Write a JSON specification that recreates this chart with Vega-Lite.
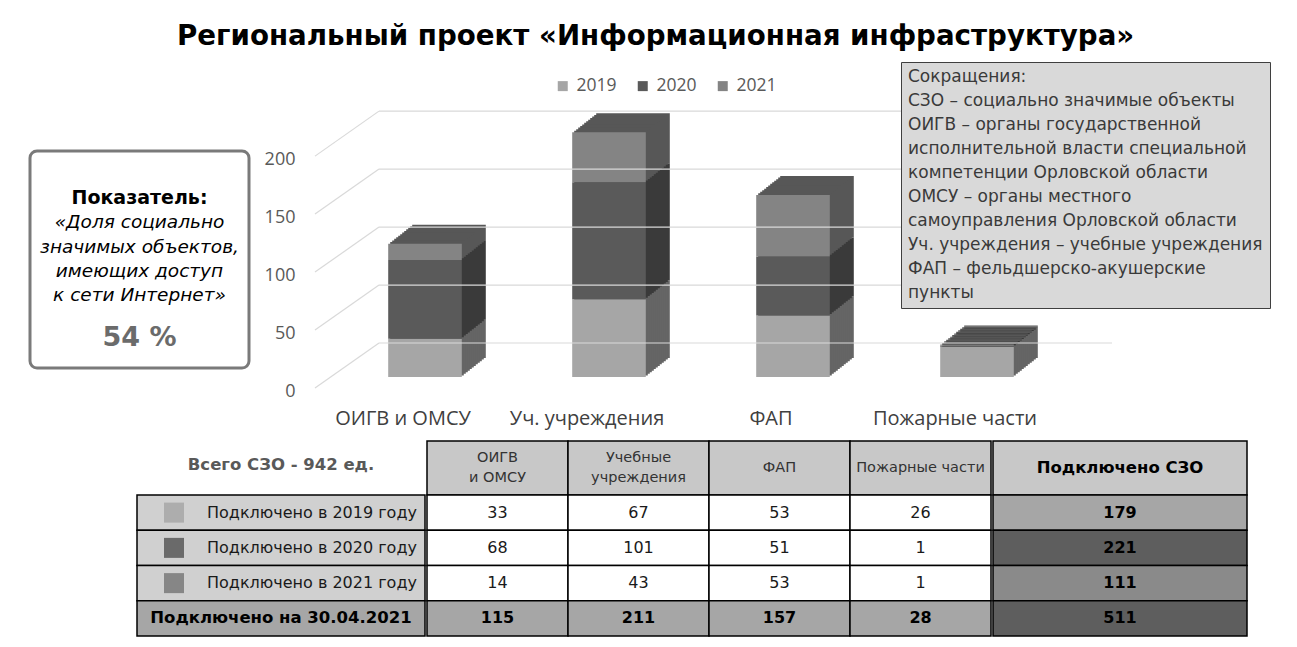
{
  "$schema": "https://vega.github.io/schema/vega-lite/v6.json",
  "background": "white",
  "padding": {"left": 28, "top": 22, "right": 0, "bottom": 0},
  "spacing": 12,
  "title": {"text": "Региональный проект «Информационная инфраструктура»", "font": "DejaVu Sans", "fontSize": 27.7, "fontWeight": "bold", "color": "#000000", "anchor": "start", "frame": "group", "dx": 147, "offset": 11},
  "datasets": {
    "bars": [
      {"cat": "ОИГВ и ОМСУ", "year": "2019", "n": 33},
      {"cat": "ОИГВ и ОМСУ", "year": "2020", "n": 68},
      {"cat": "ОИГВ и ОМСУ", "year": "2021", "n": 14},
      {"cat": "Уч. учреждения", "year": "2019", "n": 67},
      {"cat": "Уч. учреждения", "year": "2020", "n": 101},
      {"cat": "Уч. учреждения", "year": "2021", "n": 43},
      {"cat": "ФАП", "year": "2019", "n": 53},
      {"cat": "ФАП", "year": "2020", "n": 51},
      {"cat": "ФАП", "year": "2021", "n": 53},
      {"cat": "Пожарные части", "year": "2019", "n": 26},
      {"cat": "Пожарные части", "year": "2020", "n": 1},
      {"cat": "Пожарные части", "year": "2021", "n": 1}
    ],
    "ticks": [{"v": 0}, {"v": 50}, {"v": 100}, {"v": 150}, {"v": 200}],
    "abbr": [
      {"t": "СЗО – социально значимые объекты"},
      {"t": "ОИГВ – органы государственной"},
      {"t": "исполнительной власти специальной"},
      {"t": "компетенции Орловской области"},
      {"t": "ОМСУ – органы местного"},
      {"t": "самоуправления Орловской области"},
      {"t": "Уч. учреждения – учебные учреждения"},
      {"t": "ФАП – фельдшерско-акушерские"},
      {"t": "пункты"}
    ],
    "note": [
      {"t": "Показатель:", "kind": "head"},
      {"t": "«Доля социально", "kind": "body"},
      {"t": "значимых объектов,", "kind": "body"},
      {"t": "имеющих доступ", "kind": "body"},
      {"t": "к сети Интернет»", "kind": "body"},
      {"t": "54 %", "kind": "value"}
    ],
    "rows": [
      {"row": "Подключено в 2019 году", "year": "2019"},
      {"row": "Подключено в 2020 году", "year": "2020"},
      {"row": "Подключено в 2021 году", "year": "2021"},
      {"row": "Подключено на 30.04.2021", "year": null}
    ],
    "hdr": [
      {"col": "ОИГВ и ОМСУ", "h": "ОИГВ\nи ОМСУ", "lines": 2},
      {"col": "Учебные учреждения", "h": "Учебные\nучреждения", "lines": 2},
      {"col": "ФАП", "h": "ФАП", "lines": 1},
      {"col": "Пожарные части", "h": "Пожарные части", "lines": 1}
    ],
    "table": [
      {"row": "Подключено в 2019 году", "col": "ОИГВ и ОМСУ", "v": 33},
      {"row": "Подключено в 2020 году", "col": "ОИГВ и ОМСУ", "v": 68},
      {"row": "Подключено в 2021 году", "col": "ОИГВ и ОМСУ", "v": 14},
      {"row": "Подключено на 30.04.2021", "col": "ОИГВ и ОМСУ", "v": 115},
      {"row": "Подключено в 2019 году", "col": "Учебные учреждения", "v": 67},
      {"row": "Подключено в 2020 году", "col": "Учебные учреждения", "v": 101},
      {"row": "Подключено в 2021 году", "col": "Учебные учреждения", "v": 43},
      {"row": "Подключено на 30.04.2021", "col": "Учебные учреждения", "v": 211},
      {"row": "Подключено в 2019 году", "col": "ФАП", "v": 53},
      {"row": "Подключено в 2020 году", "col": "ФАП", "v": 51},
      {"row": "Подключено в 2021 году", "col": "ФАП", "v": 53},
      {"row": "Подключено на 30.04.2021", "col": "ФАП", "v": 157},
      {"row": "Подключено в 2019 году", "col": "Пожарные части", "v": 26},
      {"row": "Подключено в 2020 году", "col": "Пожарные части", "v": 1},
      {"row": "Подключено в 2021 году", "col": "Пожарные части", "v": 1},
      {"row": "Подключено на 30.04.2021", "col": "Пожарные части", "v": 28},
      {"row": "Подключено в 2019 году", "col": "Подключено СЗО", "v": 179},
      {"row": "Подключено в 2020 году", "col": "Подключено СЗО", "v": 221},
      {"row": "Подключено в 2021 году", "col": "Подключено СЗО", "v": 111},
      {"row": "Подключено на 30.04.2021", "col": "Подключено СЗО", "v": 511}
    ]
  },
  "vconcat": [
    {
      "bounds": "flush",
      "spacing": 62,
      "hconcat": [
        {
          "width": 219,
          "height": 217,
          "view": {"stroke": "#7a7a7a", "strokeWidth": 3, "cornerRadius": 7, "fill": "white"},
          "data": {"name": "note"},
          "encoding": {
            "y": {"field": "t", "type": "ordinal", "scale": {"type": "band", "domain": ["Показатель:", "«Доля социально", "значимых объектов,", "имеющих доступ", "к сети Интернет»", "_", "54 %"], "paddingInner": 0, "paddingOuter": 0.966, "align": 0.743}, "axis": null}
          },
          "layer": [
            {"transform": [{"filter": "datum.kind === 'head'"}], "mark": {"type": "text", "font": "DejaVu Sans", "fontWeight": "bold", "fontSize": 19, "color": "#000000", "baseline": "middle"}, "encoding": {"text": {"field": "t"}}},
            {"transform": [{"filter": "datum.kind === 'body'"}], "mark": {"type": "text", "font": "DejaVu Sans", "fontStyle": "italic", "fontSize": 18.5, "color": "#000000", "baseline": "middle"}, "encoding": {"text": {"field": "t"}}},
            {"transform": [{"filter": "datum.kind === 'value'"}], "mark": {"type": "text", "font": "DejaVu Sans", "fontWeight": "bold", "fontSize": 27, "color": "#6b6b6b", "baseline": "middle", "dy": -6}, "encoding": {"text": {"field": "t"}}}
          ]
        },
        {
          "width": 736,
          "height": 240,
          "layer": [
            {
              "data": {"name": "bars"},
              "encoding": {
                "x": {"field": "cat", "type": "nominal", "title": null, "scale": {"type": "band", "domain": ["ОИГВ и ОМСУ", "Уч. учреждения", "ФАП", "Пожарные части"], "paddingInner": 0.6, "paddingOuter": 0.3}, "axis": {"title": null, "domain": false, "ticks": false, "labelAngle": 0, "labelAlign": "center", "labelBaseline": "top", "labelPadding": 17, "labelFont": "Open Sans", "labelFontSize": 20, "labelColor": "#404040", "labelLimit": 300}},
                "y": {"field": "n", "type": "quantitative", "title": null, "stack": "zero", "scale": {"domain": [0, 207], "nice": false}, "axis": {"title": null, "values": [0, 50, 100, 150, 200], "grid": false, "domain": false, "ticks": false, "labelPadding": 16, "labelFont": "Open Sans", "labelFontSize": 18, "labelColor": "#595959"}},
                "detail": {"field": "year"},
                "order": {"field": "year", "sort": "ascending"}
              },
              "layer": [
                {"mark": {"type": "bar", "xOffset": 46, "x2Offset": 46, "yOffset": -33, "y2Offset": -33}, "encoding": {"fill": {"condition": [{"test": "datum.year === '2019'", "value": "#656565"}, {"test": "datum.year === '2020'", "value": "#3a3a3a"}], "value": "#575757"}}},
                {"mark": {"type": "bar", "xOffset": 44, "x2Offset": 44, "yOffset": -31.4, "y2Offset": -31.4}, "encoding": {"fill": {"condition": [{"test": "datum.year === '2019'", "value": "#656565"}, {"test": "datum.year === '2020'", "value": "#3a3a3a"}], "value": "#575757"}}},
                {"mark": {"type": "bar", "xOffset": 42, "x2Offset": 42, "yOffset": -29.8, "y2Offset": -29.8}, "encoding": {"fill": {"condition": [{"test": "datum.year === '2019'", "value": "#656565"}, {"test": "datum.year === '2020'", "value": "#3a3a3a"}], "value": "#575757"}}},
                {"mark": {"type": "bar", "xOffset": 40, "x2Offset": 40, "yOffset": -28.3, "y2Offset": -28.3}, "encoding": {"fill": {"condition": [{"test": "datum.year === '2019'", "value": "#656565"}, {"test": "datum.year === '2020'", "value": "#3a3a3a"}], "value": "#575757"}}},
                {"mark": {"type": "bar", "xOffset": 38, "x2Offset": 38, "yOffset": -26.7, "y2Offset": -26.7}, "encoding": {"fill": {"condition": [{"test": "datum.year === '2019'", "value": "#656565"}, {"test": "datum.year === '2020'", "value": "#3a3a3a"}], "value": "#575757"}}},
                {"mark": {"type": "bar", "xOffset": 36, "x2Offset": 36, "yOffset": -25.1, "y2Offset": -25.1}, "encoding": {"fill": {"condition": [{"test": "datum.year === '2019'", "value": "#656565"}, {"test": "datum.year === '2020'", "value": "#3a3a3a"}], "value": "#575757"}}},
                {"mark": {"type": "bar", "xOffset": 34, "x2Offset": 34, "yOffset": -23.5, "y2Offset": -23.5}, "encoding": {"fill": {"condition": [{"test": "datum.year === '2019'", "value": "#656565"}, {"test": "datum.year === '2020'", "value": "#3a3a3a"}], "value": "#575757"}}},
                {"mark": {"type": "bar", "xOffset": 32, "x2Offset": 32, "yOffset": -21.9, "y2Offset": -21.9}, "encoding": {"fill": {"condition": [{"test": "datum.year === '2019'", "value": "#656565"}, {"test": "datum.year === '2020'", "value": "#3a3a3a"}], "value": "#575757"}}},
                {"mark": {"type": "bar", "xOffset": 30, "x2Offset": 30, "yOffset": -20.3, "y2Offset": -20.3}, "encoding": {"fill": {"condition": [{"test": "datum.year === '2019'", "value": "#656565"}, {"test": "datum.year === '2020'", "value": "#3a3a3a"}], "value": "#575757"}}},
                {"mark": {"type": "bar", "xOffset": 28, "x2Offset": 28, "yOffset": -18.8, "y2Offset": -18.8}, "encoding": {"fill": {"condition": [{"test": "datum.year === '2019'", "value": "#656565"}, {"test": "datum.year === '2020'", "value": "#3a3a3a"}], "value": "#575757"}}},
                {"mark": {"type": "bar", "xOffset": 26, "x2Offset": 26, "yOffset": -17.2, "y2Offset": -17.2}, "encoding": {"fill": {"condition": [{"test": "datum.year === '2019'", "value": "#656565"}, {"test": "datum.year === '2020'", "value": "#3a3a3a"}], "value": "#575757"}}},
                {"mark": {"type": "bar", "xOffset": 24, "x2Offset": 24, "yOffset": -15.6, "y2Offset": -15.6}, "encoding": {"fill": {"condition": [{"test": "datum.year === '2019'", "value": "#656565"}, {"test": "datum.year === '2020'", "value": "#3a3a3a"}], "value": "#575757"}}},
                {
                  "mark": {"type": "bar", "xOffset": 22, "x2Offset": 22, "yOffset": -14, "y2Offset": -14},
                  "encoding": {
                    "color": {"field": "year", "type": "nominal", "scale": {"domain": ["2019", "2020", "2021"], "range": ["#a6a6a6", "#5a5a5a", "#848484"]},
                      "legend": {"orient": "none", "legendX": 524, "legendY": -74, "direction": "horizontal", "title": null, "symbolType": "square", "symbolSize": 100, "symbolStrokeWidth": 0, "labelFont": "Open Sans", "labelFontSize": 17.5, "labelColor": "#595959", "labelOffset": 5, "columnPadding": 17}}
                  }
                }
              ]
            },
            {
              "data": {"name": "ticks"},
              "mark": {"type": "rule", "color": "#d9d9d9", "strokeWidth": 1.2, "xOffset": -88, "x2Offset": -24, "yOffset": -3, "y2Offset": -48},
              "encoding": {
                "x": {"datum": "ОИГВ и ОМСУ", "type": "nominal"},
                "x2": {"datum": "ОИГВ и ОМСУ"},
                "y": {"field": "v", "type": "quantitative", "title": null},
                "y2": {"field": "v"}
              }
            },
            {
              "data": {"name": "ticks"},
              "mark": {"type": "rule", "color": "#d9d9d9", "strokeWidth": 1.2, "xOffset": -24, "x2Offset": 157, "yOffset": -48},
              "encoding": {
                "x": {"datum": "ОИГВ и ОМСУ", "type": "nominal"},
                "x2": {"datum": "Пожарные части"},
                "y": {"field": "v", "type": "quantitative", "title": null}
              }
            },
            {
              "data": {"name": "abbr"},
              "mark": {"type": "point", "opacity": 0},
              "encoding": {
                "shape": {"field": "t", "type": "nominal", "sort": null,
                  "legend": {"orient": "none", "legendX": 871, "legendY": -89, "title": "Сокращения:", "titleFont": "DejaVu Sans", "titleFontSize": 17, "titleFontWeight": "normal", "titleColor": "#3a3a3a", "titlePadding": 6, "labelFont": "DejaVu Sans", "labelFontSize": 17, "labelColor": "#3a3a3a", "labelLimit": 600, "labelOffset": -17, "symbolSize": 0, "symbolOpacity": 0, "symbolStrokeWidth": 0, "rowPadding": 6.0, "padding": 7, "fillColor": "#d9d9d9", "strokeColor": "#3f3f3f"}}
              }
            }
          ]
        }
      ]
    },
    {
      "spacing": 0,
      "hconcat": [
        {"width": 106, "height": 54, "view": {"fill": "white", "stroke": null}, "data": {"values": [{"t": ""}]}, "mark": {"type": "text"}, "encoding": {"text": {"field": "t"}}},
        {
          "bounds": "flush",
          "spacing": 0,
          "vconcat": [
            {"width": 288, "height": 54, "view": {"fill": "white", "stroke": null}, "data": {"values": [{"t": "Всего СЗО - 942 ед."}]}, "mark": {"type": "text", "font": "DejaVu Sans", "fontWeight": "bold", "fontSize": 16.5, "color": "#595959", "dy": -3}, "encoding": {"text": {"field": "t"}}},
            {
              "width": 288,
              "height": 141,
              "data": {"name": "rows"},
              "encoding": {"y": {"field": "row", "type": "nominal", "scale": {"domain": ["Подключено в 2019 году", "Подключено в 2020 году", "Подключено в 2021 году", "Подключено на 30.04.2021"], "paddingInner": 0, "paddingOuter": 0}, "axis": null}},
              "layer": [
                {"mark": {"type": "rect", "stroke": "#000000", "strokeWidth": 1.5}, "encoding": {"fill": {"condition": {"test": "datum.year == null", "value": "#a6a6a6"}, "value": "#d0d0d0"}}},
                {"transform": [{"filter": "datum.year != null"}], "mark": {"type": "square", "size": 400, "filled": true, "opacity": 1, "xOffset": -107}, "encoding": {"fill": {"condition": [{"test": "datum.year === '2019'", "value": "#adadad"}, {"test": "datum.year === '2020'", "value": "#6a6a6a"}], "value": "#868686"}}},
                {"transform": [{"filter": "datum.year != null"}], "mark": {"type": "text", "font": "DejaVu Sans", "align": "left", "dx": -74, "fontSize": 16, "color": "#1a1a1a"}, "encoding": {"text": {"field": "row"}}},
                {"transform": [{"filter": "datum.year == null"}], "mark": {"type": "text", "font": "DejaVu Sans", "fontWeight": "bold", "fontSize": 16.5, "color": "#000000"}, "encoding": {"text": {"field": "row"}}}
              ]
            }
          ]
        },
        {
          "bounds": "flush",
          "spacing": 0,
          "vconcat": [
            {
              "width": 564,
              "height": 54,
              "data": {"name": "hdr"},
              "encoding": {"x": {"field": "col", "type": "nominal", "scale": {"domain": ["ОИГВ и ОМСУ", "Учебные учреждения", "ФАП", "Пожарные части"], "paddingInner": 0, "paddingOuter": 0}, "axis": null}},
              "layer": [
                {"mark": {"type": "rect", "fill": "#c8c8c8", "stroke": "#000000", "strokeWidth": 1.5}},
                {"transform": [{"filter": "datum.lines === 1"}], "mark": {"type": "text", "font": "DejaVu Sans", "fontSize": 14.5, "color": "#333333"}, "encoding": {"text": {"field": "h"}}},
                {"transform": [{"filter": "datum.lines === 2"}], "mark": {"type": "text", "font": "DejaVu Sans", "lineBreak": "\n", "lineHeight": 20, "dy": -10, "fontSize": 14.5, "color": "#333333"}, "encoding": {"text": {"field": "h"}}}
              ]
            },
            {
              "width": 564,
              "height": 141,
              "data": {"name": "table"},
              "transform": [{"filter": "datum.col !== 'Подключено СЗО'"}],
              "encoding": {
                "x": {"field": "col", "type": "nominal", "scale": {"domain": ["ОИГВ и ОМСУ", "Учебные учреждения", "ФАП", "Пожарные части"], "paddingInner": 0, "paddingOuter": 0}, "axis": null},
                "y": {"field": "row", "type": "nominal", "scale": {"domain": ["Подключено в 2019 году", "Подключено в 2020 году", "Подключено в 2021 году", "Подключено на 30.04.2021"], "paddingInner": 0, "paddingOuter": 0}, "axis": null}
              },
              "layer": [
                {"mark": {"type": "rect", "stroke": "#000000", "strokeWidth": 1.5}, "encoding": {"fill": {"condition": {"test": "datum.row === 'Подключено на 30.04.2021'", "value": "#a6a6a6"}, "value": "#ffffff"}}},
                {"transform": [{"filter": "datum.row !== 'Подключено на 30.04.2021'"}], "mark": {"type": "text", "font": "DejaVu Sans", "fontSize": 16, "color": "#1a1a1a"}, "encoding": {"text": {"field": "v", "type": "quantitative"}}},
                {"transform": [{"filter": "datum.row === 'Подключено на 30.04.2021'"}], "mark": {"type": "text", "font": "DejaVu Sans", "fontWeight": "bold", "fontSize": 16, "color": "#000000"}, "encoding": {"text": {"field": "v", "type": "quantitative"}}}
              ]
            }
          ]
        },
        {
          "bounds": "flush",
          "spacing": 0,
          "vconcat": [
            {"width": 254, "height": 54, "view": {"fill": "#c8c8c8", "stroke": "#000000", "strokeWidth": 1.5}, "data": {"values": [{"t": "Подключено СЗО"}]}, "mark": {"type": "text", "font": "DejaVu Sans", "fontWeight": "bold", "fontSize": 16.5, "color": "#000000"}, "encoding": {"text": {"field": "t"}}},
            {
              "width": 254,
              "height": 141,
              "data": {"name": "table"},
              "transform": [{"filter": "datum.col === 'Подключено СЗО'"}],
              "encoding": {"y": {"field": "row", "type": "nominal", "scale": {"domain": ["Подключено в 2019 году", "Подключено в 2020 году", "Подключено в 2021 году", "Подключено на 30.04.2021"], "paddingInner": 0, "paddingOuter": 0}, "axis": null}},
              "layer": [
                {"mark": {"type": "rect", "stroke": "#000000", "strokeWidth": 1.5}, "encoding": {"fill": {"condition": [{"test": "datum.row === 'Подключено в 2019 году'", "value": "#a6a6a6"}, {"test": "datum.row === 'Подключено в 2021 году'", "value": "#8a8a8a"}], "value": "#5e5e5e"}}},
                {"mark": {"type": "text", "font": "DejaVu Sans", "fontWeight": "bold", "fontSize": 16, "color": "#000000"}, "encoding": {"text": {"field": "v", "type": "quantitative"}}}
              ]
            }
          ]
        }
      ]
    }
  ],
  "config": {"view": {"stroke": null}, "font": "DejaVu Sans"}
}
